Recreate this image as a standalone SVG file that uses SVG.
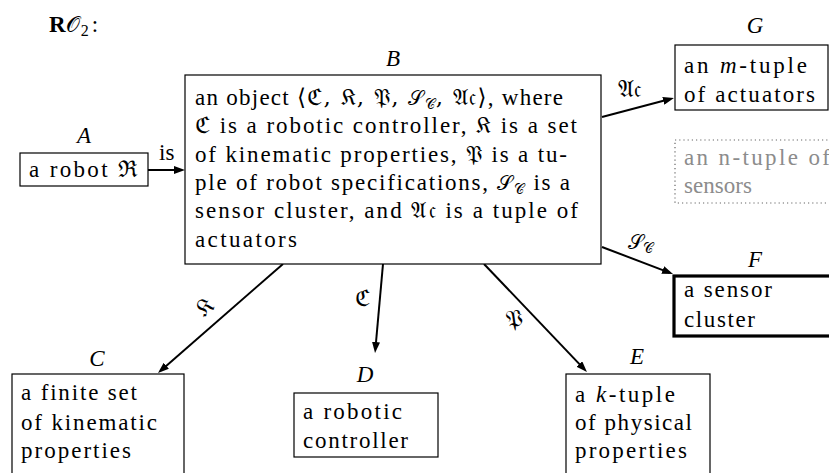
<svg xmlns="http://www.w3.org/2000/svg" width="829" height="473" viewBox="0 0 829 473">
<defs>
<marker id="ah" viewBox="0 0 11 8" markerWidth="11" markerHeight="8" refX="7" refY="4" orient="auto" markerUnits="userSpaceOnUse">
<path d="M0,0 L11,4 L0,8 z" fill="#000"/>
</marker>
</defs>
<rect width="829" height="473" fill="#fff"/>

<text font-family="Liberation Serif" font-size="23" x="49" y="32"><tspan font-weight="bold">R</tspan><tspan font-size="22">𝒪</tspan><tspan font-size="16" dx="1" dy="4">2</tspan><tspan dx="3" dy="-4">:</tspan></text>

<g id="connectors" fill="none" stroke="#000" stroke-width="2">
<path d="M148,170 L181,170" marker-end="url(#ah)"/>
<path d="M602,117 L670.1,99" marker-end="url(#ah)"/>
<path d="M602,247 L669.3,272.6" marker-end="url(#ah)"/>
<path d="M283,264 L161,370.4" marker-end="url(#ah)"/>
<path d="M383,264 L375.4,349" marker-end="url(#ah)"/>
<path d="M484,264 L584.2,369.1" marker-end="url(#ah)"/>
<text stroke="none" fill="#000" font-family="Liberation Serif" font-size="23" x="159" y="160">is</text>
<text stroke="none" fill="#000" font-family="DejaVu Serif" x="618" y="97" font-size="24">𝔄𝔠</text>
<text stroke="none" fill="#000" font-family="Liberation Serif" x="628" y="249"><tspan font-size="20">𝒮</tspan><tspan font-size="14" dy="4">𝒞</tspan></text>
<text stroke="none" fill="#000" font-family="DejaVu Serif" x="0" y="0" font-size="24" text-anchor="middle" transform="translate(210,313) rotate(-41)">𝔎</text>
<text stroke="none" fill="#000" font-family="DejaVu Serif" x="362" y="306" font-size="23" text-anchor="middle">ℭ</text>
<text stroke="none" fill="#000" font-family="DejaVu Serif" x="0" y="0" font-size="24" text-anchor="middle" transform="translate(515,327) rotate(-8)">𝔓</text>
</g>

<g id="A">
<rect fill="#fff" stroke="#000" stroke-width="1.2" x="20" y="153" width="128" height="33"/>
<text font-family="Liberation Serif" font-size="23" font-style="italic" x="84" y="143" text-anchor="middle">A</text>
<text font-family="Liberation Serif" font-size="23" x="29" y="177" textLength="109" lengthAdjust="spacing">a robot <tspan font-family="DejaVu Serif">ℜ</tspan></text>
</g>

<g id="B">
<rect fill="#fff" stroke="#000" stroke-width="1.2" x="185" y="75" width="416" height="189"/>
<text font-family="Liberation Serif" font-size="23" font-style="italic" x="393" y="66" text-anchor="middle">B</text>
<text font-family="Liberation Serif" font-size="23" x="195" y="105" textLength="368" lengthAdjust="spacing">an object <tspan font-family="DejaVu Serif">⟨ℭ, 𝔎, 𝔓, </tspan><tspan font-size="20">𝒮</tspan><tspan font-size="14" dy="4">𝒞</tspan><tspan font-family="DejaVu Serif" dy="-4">, 𝔄𝔠⟩</tspan>, where</text>
<text font-family="Liberation Serif" font-size="23" x="195" y="133" textLength="382" lengthAdjust="spacing"><tspan font-family="DejaVu Serif">ℭ</tspan> is a robotic controller, <tspan font-family="DejaVu Serif">𝔎</tspan> is a set</text>
<text font-family="Liberation Serif" font-size="23" x="195" y="162" textLength="372" lengthAdjust="spacing">of kinematic properties, <tspan font-family="DejaVu Serif">𝔓</tspan> is a tu-</text>
<text font-family="Liberation Serif" font-size="23" x="195" y="190" textLength="375" lengthAdjust="spacing">ple of robot specifications, <tspan font-size="20">𝒮</tspan><tspan font-size="14" dy="4">𝒞</tspan><tspan dy="-4"> is a</tspan></text>
<text font-family="Liberation Serif" font-size="23" x="195" y="218" textLength="383" lengthAdjust="spacing">sensor cluster, and <tspan font-family="DejaVu Serif">𝔄𝔠</tspan> is a tuple of</text>
<text font-family="Liberation Serif" font-size="23" x="195" y="247" textLength="102" lengthAdjust="spacing">actuators</text>
</g>

<g id="G">
<rect fill="#fff" stroke="#000" stroke-width="1.2" x="675" y="45" width="153" height="65"/>
<text font-family="Liberation Serif" font-size="23" font-style="italic" x="755" y="33" text-anchor="middle">G</text>
<text font-family="Liberation Serif" font-size="23" x="684" y="73" textLength="123" lengthAdjust="spacing">an <tspan font-style="italic">m</tspan>-tuple</text>
<text font-family="Liberation Serif" font-size="23" x="684" y="102" textLength="131" lengthAdjust="spacing">of actuators</text>
</g>

<g id="sensors">
<rect fill="none" stroke="#666" stroke-width="1.2" stroke-dasharray="1.2 3" x="675" y="140" width="170" height="63"/>
<text fill="#8c8c8c" font-family="Liberation Serif" font-size="23" x="684" y="165" textLength="146" lengthAdjust="spacing">an n-tuple of</text>
<text fill="#8c8c8c" font-family="Liberation Serif" font-size="23" x="684" y="193" textLength="68" lengthAdjust="spacing">sensors</text>
</g>

<g id="F">
<rect fill="#fff" stroke="#000" stroke-width="3.2" x="674" y="276" width="170" height="60"/>
<text font-family="Liberation Serif" font-size="23" font-style="italic" x="755" y="267" text-anchor="middle">F</text>
<text font-family="Liberation Serif" font-size="23" x="684" y="297" textLength="88" lengthAdjust="spacing">a sensor</text>
<text font-family="Liberation Serif" font-size="23" x="684" y="327" textLength="71" lengthAdjust="spacing">cluster</text>
</g>

<g id="C">
<rect fill="#fff" stroke="#000" stroke-width="1.2" x="12" y="374" width="172" height="110"/>
<text font-family="Liberation Serif" font-size="23" font-style="italic" x="97" y="366" text-anchor="middle">C</text>
<text font-family="Liberation Serif" font-size="23" x="21" y="400" textLength="116" lengthAdjust="spacing">a finite set</text>
<text font-family="Liberation Serif" font-size="23" x="21" y="430" textLength="136" lengthAdjust="spacing">of kinematic</text>
<text font-family="Liberation Serif" font-size="23" x="21" y="458" textLength="110" lengthAdjust="spacing">properties</text>
</g>

<g id="D">
<rect fill="#fff" stroke="#000" stroke-width="1.2" x="294" y="393" width="144" height="64"/>
<text font-family="Liberation Serif" font-size="23" font-style="italic" x="365" y="382" text-anchor="middle">D</text>
<text font-family="Liberation Serif" font-size="23" x="303" y="419" textLength="99" lengthAdjust="spacing">a robotic</text>
<text font-family="Liberation Serif" font-size="23" x="303" y="448" textLength="105" lengthAdjust="spacing">controller</text>
</g>

<g id="E">
<rect fill="#fff" stroke="#000" stroke-width="1.2" x="566" y="374" width="144" height="110"/>
<text font-family="Liberation Serif" font-size="23" font-style="italic" x="637" y="364" text-anchor="middle">E</text>
<text font-family="Liberation Serif" font-size="23" x="575" y="402" textLength="100" lengthAdjust="spacing">a <tspan font-style="italic">k</tspan>-tuple</text>
<text font-family="Liberation Serif" font-size="23" x="575" y="430" textLength="117" lengthAdjust="spacing">of physical</text>
<text font-family="Liberation Serif" font-size="23" x="575" y="458" textLength="112" lengthAdjust="spacing">properties</text>
</g>
</svg>
